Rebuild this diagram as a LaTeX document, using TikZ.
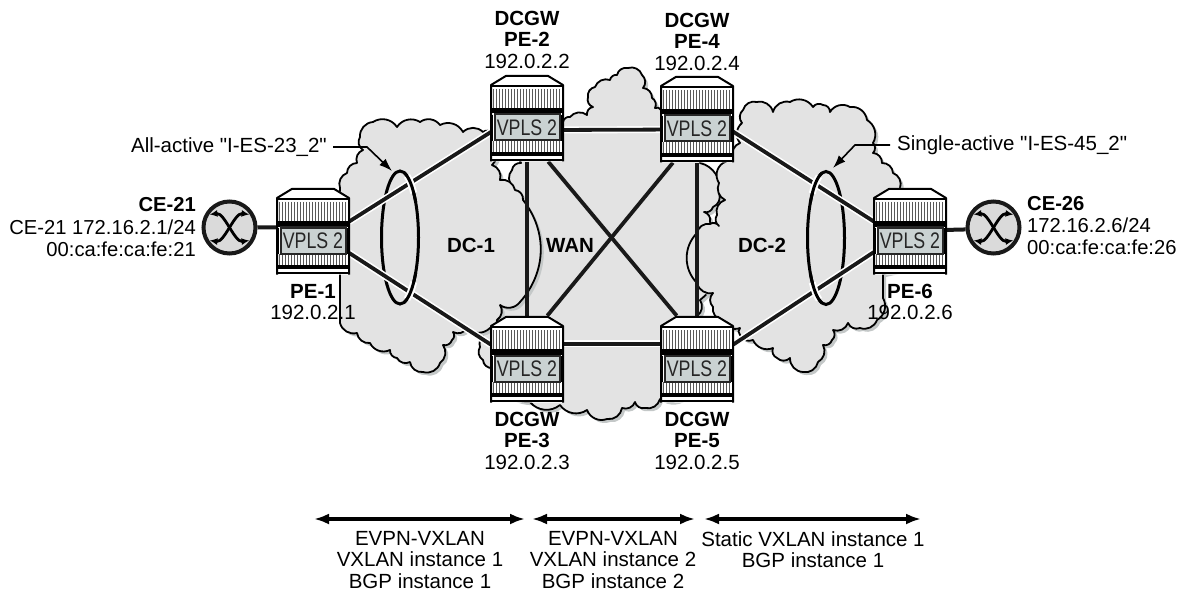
\documentclass[tikz,border=0pt]{standalone}
\usepackage{fontspec}
\setmainfont{Liberation Sans}[Ligatures=TeXOff]
\usetikzlibrary{arrows.meta,shapes.geometric}
\definecolor{cloudgray}{HTML}{E3E3E3}
\definecolor{shadowgray}{HTML}{C4C8C8}
\definecolor{boxgray}{HTML}{CAD2D2}
\definecolor{cegray}{HTML}{DADADA}
\newcommand{\txt}{\fontsize{20.5}{21.5}\selectfont}
\newcommand{\routerart}[2]{%
  \begin{scope}[shift={(#1,#2)}]
    \fill[white] (-36,10) -- (-22,0) -- (22,0) -- (36,10) -- (36,86.5) -- (-36,86.5) -- cycle;
    \foreach \sx in {-34,-31,...,35} {
      \draw[black!65,line width=.9] (\sx,14) -- (\sx,33);
      \draw[black!65,line width=.9] (\sx,66) -- (\sx,77);
    }
    \draw[line width=2,line join=round] (-36,86.5) -- (-36,10) -- (-21,0.9) -- (21,0.9) -- (36,10) -- (36,86.5);
    \draw[line width=1.5] (-36,11) -- (36,11);
    \fill (-36,33) rectangle (36,38.5);
    \fill (-36,77) rectangle (36,81);
    \draw[line width=1.5] (-36,85) -- (36,85);
    \draw[line width=1.2] (-35,40) -- (-35,66) (35,40) -- (35,66);
  \end{scope}}
\newcommand{\cearts}[2]{%
  \begin{scope}[shift={(#1,#2)}]
    \draw[line width=2.8,{Latex[length=8,width=7]}-{Latex[length=8,width=7]}] (-20,-13) .. controls (-5,-15) and (5,15) .. (20,13);
    \draw[line width=2.8,{Latex[length=8,width=7]}-{Latex[length=8,width=7]}] (-20,13) .. controls (-5,15) and (5,-15) .. (20,-13);
  \end{scope}}
\tikzset{
  bump/.style={bend left=45},
  cloudshape/.style={fill=cloudgray,draw=black,line width=1.8,line join=round,
    preaction={fill=shadowgray,draw=none,transform canvas={shift={(3pt,-3pt)}}}},
  routernode/.style={rectangle,minimum width=72,minimum height=86.5,inner sep=0,draw=none},
  vpls/.style={rectangle,draw=black!85,line width=2,fill=boxgray,minimum width=65,minimum height=26,inner sep=0,text=black!85},
  link/.style={line width=3.8,draw=black!90},
  halolink/.style={link,preaction={draw=white,line width=7}},
  ringnode/.style={ellipse,draw=black,line width=3,minimum width=37,minimum height=133,inner sep=0},
  cenode/.style={circle,draw=black!90,line width=4,fill=cegray,minimum size=52,inner sep=0},
  lab/.style={font=\txt,align=center,inner sep=0},
  blab/.style={font=\txt\bfseries,align=center,inner sep=0},
  callout/.style={line width=1.6,-{Latex[length=13,width=9]}},
  span/.style={line width=3.4,{Latex[length=15,width=11]}-{Latex[length=15,width=11]}},
}
\begin{document}
\begin{tikzpicture}[x=1pt,y=-1pt]
\useasboundingbox (0,0) rectangle (1179,591);
\fill[white] (0,0) rectangle (1179,591);
% clouds
\draw[cloudshape] (563,122) \foreach \px/\py in {570/117,587/115,593/107,588/97,595/87,610/80,617/75,628/68,642/75,643/88,652/98,655/108,661/110,700/163,719/193,713/207,704/212,710/222,700/300,697/316,690/390,660/399,645/408,635/402,622/408,607/419,587/410,560/405,530/402,492/368,483/360,480/347,490/330,513/187,512/170,521/163,527/140} { to[bump] (\px,\py) } -- cycle;
\draw[cloudshape] (340,188) \foreach \px/\py in {347/173,357/163,363/150,360/137,373/122,397/127,420/122,440/125,463/132,483/132,492/133,492/165,500/180,515/190,523/200} { to[bump] (\px,\py) } to[bend left=40] (520,302) \foreach \px/\py in {500/305,497/320,490/328,467/328,453/332,452/340,443/345,440/363,423/372,410/362,397/358,390/350,370/343,357/333,340/323} { to[bump] (\px,\py) } -- cycle;
\draw[cloudshape] (733,158) \foreach \px/\py in {740/143,742/123,743/110,757/102,773/112,790/102,813/107,823/105,830/112,850/107,867/120,873/143,873/153,882/163,893/173,900/188} { to[bump] (\px,\py) } -- (900,270) -- (883,274) -- (883,298) \foreach \px/\py in {877/320,860/328,848/323,833/330,832/340,823/345,818/362,803/372,790/358,777/358,773/348,753/340,740/335,740/328,722/320,713/307,713/293,697/283,697/233,710/224,719/226,717/215,725/200,719/183,723/163} { to[bump] (\px,\py) } -- cycle;
% cloud names
\node[blab] (dc1) at (471,245) {DC-1};
\node[blab] (wan) at (570,245) {WAN};
\node[blab] (dc2) at (762,245) {DC-2};
% router anchors
\node[routernode] (pe1) at (313,231.2) {};
\node[routernode] (pe2) at (527,118.2) {};
\node[routernode] (pe3) at (527,359.2) {};
\node[routernode] (pe4) at (697,119.2) {};
\node[routernode] (pe5) at (697,359.2) {};
\node[routernode] (pe6) at (910,231.2) {};
\node[cenode] (ce21) at (229.5,227.5) {};
\node[cenode] (ce26) at (993.5,227.5) {};
% rings
\node[ringnode] (es23) at (400,237.5) {};
\node[ringnode] (es45) at (826,238) {};
% links
\draw[link] (pe2.south) -- (pe3.north);
\draw[link] (pe4.south) -- (pe5.north);
\draw[link] (pe2.-64) -- (pe5.115);
\draw[link] (pe4.241) -- (pe3.65);
\draw[halolink] (pe2.-18) -- (pe4.196);
\draw[halolink] (pe3.23) -- (pe5.157);
\draw[halolink] (pe1.15) -- (pe2.201);
\draw[halolink] (pe1.-31) -- (pe3.158);
\draw[halolink] (pe4.-19) -- (pe6.165);
\draw[halolink] (pe5.22) -- (pe6.210);
\draw[link,line width=4] (ce21.east) -- (pe1.174);
\draw[link,line width=4] (ce26.184) -- (pe6.2);
% ring weave
\foreach \cx/\cy/\ra/\rb in {400/237.5/42/68,400/237.5/-68/-42,826/238/112/138,826/238/-138/-112} {
  \draw[white,line width=7] (\cx,\cy) ++(\ra:18.5pt and 66.5pt) arc[start angle=\ra,end angle=\rb,x radius=18.5pt,y radius=66.5pt];
  \pgfmathsetmacro{\rc}{\ra-10}\pgfmathsetmacro{\rd}{\rb+10}
  \draw[line width=3] (\cx,\cy) ++(\rc:18.5pt and 66.5pt) arc[start angle=\rc,end angle=\rd,x radius=18.5pt,y radius=66.5pt];
}
% routers
\routerart{313}{188}
\routerart{527}{75}
\routerart{527}{316}
\routerart{697}{76}
\routerart{697}{316}
\routerart{910}{188}
\node[vpls] (v1) at (313,240.5) {\fontsize{22.5}{22.5}\selectfont\scalebox{.79}[1]{VPLS 2}};
\node[vpls] (v2) at (527,127.5) {\fontsize{22.5}{22.5}\selectfont\scalebox{.79}[1]{VPLS 2}};
\node[vpls] (v3) at (527,368.5) {\fontsize{22.5}{22.5}\selectfont\scalebox{.79}[1]{VPLS 2}};
\node[vpls] (v4) at (697,128.5) {\fontsize{22.5}{22.5}\selectfont\scalebox{.79}[1]{VPLS 2}};
\node[vpls] (v5) at (697,368.5) {\fontsize{22.5}{22.5}\selectfont\scalebox{.79}[1]{VPLS 2}};
\node[vpls] (v6) at (910,240.5) {\fontsize{22.5}{22.5}\selectfont\scalebox{.79}[1]{VPLS 2}};
\cearts{229.5}{227.5}
\cearts{993.5}{227.5}
% labels
\node[lab] (l2) at (527,39.5) {\textbf{DCGW}\\\textbf{PE-2}\\192.0.2.2};
\node[lab] (l4) at (697,41.5) {\textbf{DCGW}\\\textbf{PE-4}\\192.0.2.4};
\node[lab] (l3) at (527,440.5) {\textbf{DCGW}\\\textbf{PE-3}\\192.0.2.3};
\node[lab] (l5) at (697,440.5) {\textbf{DCGW}\\\textbf{PE-5}\\192.0.2.5};
\node[lab] (l1) at (313,302) {\textbf{PE-1}\\192.0.2.1};
\node[lab] (l6) at (910,302) {\textbf{PE-6}\\192.0.2.6};
\node[font=\fontsize{20.2}{22.5}\selectfont,align=right,inner sep=0,anchor=east] (lc21) at (196,227.5) {\textbf{CE-21}\\CE-21 172.16.2.1/24\\00:ca:fe:ca:fe:21};
\node[font=\fontsize{20.2}{22}\selectfont,align=left,inner sep=0,anchor=west] (lc26) at (1027,225.5) {\textbf{CE-26}\\172.16.2.6/24\\00:ca:fe:ca:fe:26};
% callouts
\node[lab,anchor=east] (aa) at (327,147) {All-active "I-ES-23\_2"};
\node[lab,anchor=west] (sa) at (897,145) {Single-active "I-ES-45\_2"};
\coordinate (aab) at (367,147);
\coordinate (aat) at (392,171);
\coordinate (sab) at (855,145);
\coordinate (sat) at (833,168);
\draw[callout] ([xshift=6pt]aa.east) -- (aab) -- (aat);
\draw[callout] ([xshift=-7pt]sa.west) -- (sab) -- (sat);
% spans
\coordinate (s1a) at (314,519); \coordinate (s1b) at (525,519);
\coordinate (s2a) at (532,519); \coordinate (s2b) at (695,519);
\coordinate (s3a) at (704,519); \coordinate (s3b) at (921,519);
\draw[span] (s1a) -- (s1b);
\draw[span] (s2a) -- (s2b);
\draw[span] (s3a) -- (s3b);
\node[lab,anchor=north] (t1) at (420,531) {EVPN-VXLAN\\VXLAN instance 1\\BGP instance 1};
\node[lab,anchor=north] (t2) at (613,531) {EVPN-VXLAN\\VXLAN instance 2\\BGP instance 2};
\node[lab,anchor=north] (t3) at (813,531) {Static VXLAN instance 1\\BGP instance 1};
\end{tikzpicture}
\end{document}
